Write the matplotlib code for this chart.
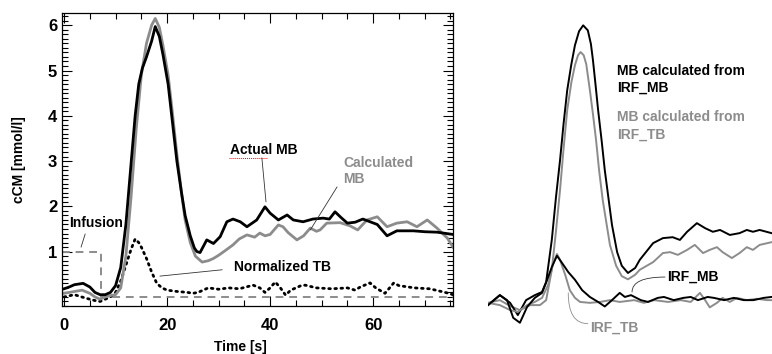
import matplotlib
matplotlib.use("Agg")
import matplotlib.pyplot as plt
from matplotlib.ticker import MultipleLocator

plt.rcParams['font.family'] = ['Liberation Sans', 'DejaVu Sans']
plt.rcParams['font.weight'] = 'bold'

# =============================================================================
# 1. DATA
# =============================================================================
# left panel, time in s, concentration in mmol/l
t_actual = [0, 1, 2, 3.7, 5, 6, 7, 8, 9, 10, 11, 12, 12.6, 13.2, 13.8, 14.5, 15.2, 16,
            17, 17.7, 18.5, 19.2, 20.2, 21, 21.9, 22.8, 23.5, 24.5, 25.3, 25.8, 26.4,
            27.7, 29, 30.3, 31.6, 32.8, 34.2, 35.5, 37.4, 39, 40, 41.6, 43.3, 44.5,
            46.4, 48.3, 50.3, 51.5, 52.6, 53.8, 55, 56.5, 58, 60.8, 62.7, 64.6, 67.8,
            70, 72.4, 75.5]
v_actual = [0.18, 0.22, 0.27, 0.3, 0.22, 0.1, 0.05, 0.05, 0.1, 0.25, 0.65, 1.6, 2.4,
            3.2, 4.0, 4.7, 5.05, 5.3, 5.65, 5.97, 5.75, 5.35, 4.7, 3.9, 3.0, 2.3, 1.8,
            1.35, 1.08, 1.0, 0.98, 1.26, 1.18, 1.33, 1.66, 1.72, 1.66, 1.55, 1.7, 1.99,
            1.85, 1.7, 1.81, 1.7, 1.66, 1.72, 1.74, 1.72, 1.88, 1.75, 1.63, 1.65, 1.72,
            1.6, 1.35, 1.46, 1.46, 1.44, 1.43, 1.38]

t_calc = [0, 1, 2, 3.5, 5, 6, 7, 8, 9, 10, 11, 12, 13, 14, 15, 16, 17, 17.7, 18.5, 19.2,
          20.2, 21, 21.9, 22.8, 23.5, 24.5, 25.5, 26.8, 28, 29, 30, 31, 32.8, 34, 35.5,
          37, 38, 39, 40, 41.6, 42.5, 43.5, 45.2, 46.5, 47.8, 49, 49.7, 51, 53.6, 55.5,
          57, 58.8, 60.8, 62.7, 64.6, 66.6, 68.5, 70.5, 72.4, 74.4, 75.5]
v_calc = [0.08, 0.1, 0.12, 0.15, 0.08, 0.0, -0.05, 0.0, 0.03, 0.05, 0.2, 0.9, 2.2, 3.7,
          4.9, 5.6, 6.0, 6.15, 5.95, 5.55, 4.9, 4.1, 3.15, 2.3, 1.7, 1.2, 0.9, 0.77, 0.8,
          0.85, 0.92, 1.0, 1.15, 1.28, 1.37, 1.32, 1.41, 1.35, 1.38, 1.59, 1.55, 1.42,
          1.26, 1.35, 1.52, 1.45, 1.48, 1.63, 1.64, 1.57, 1.48, 1.7, 1.77, 1.55, 1.63,
          1.66, 1.55, 1.7, 1.52, 1.3, 1.1]

t_tb = [0, 2, 4, 6, 7, 8, 9, 10, 11, 12, 13, 13.8, 14.5, 15, 16, 17, 18, 19, 20, 22, 24,
        25, 26, 28, 30, 32, 34, 36.7, 38, 39, 40, 41, 42, 43, 44, 46, 46.8, 49, 52, 55,
        56.5, 57.5, 59.4, 60.5, 62.3, 64, 65, 68, 71, 74, 75.5]
v_tb = [0.0, 0.05, -0.02, -0.08, -0.1, -0.05, 0.0, 0.1, 0.35, 0.7, 1.05, 1.28, 1.2, 1.1,
        0.85, 0.55, 0.3, 0.2, 0.15, 0.12, 0.1, 0.08, 0.1, 0.2, 0.17, 0.2, 0.18, 0.26,
        0.2, 0.1, 0.2, 0.33, 0.2, 0.04, 0.15, 0.25, 0.26, 0.2, 0.18, 0.2, 0.15, 0.22,
        0.31, 0.2, 0.08, 0.31, 0.25, 0.2, 0.18, 0.1, 0.05]

t_infusion = [-0.4, 7.1, 7.1, 75.5]
v_infusion = [1, 1, 0, 0]

# right panel
t_mb_irfmb = [-0.6, 1.7, 3.7, 5.2, 6.8, 8.5, 9.9, 10.7, 11.8, 12.6, 13.4, 14.1, 14.8,
              15.6, 16.3, 17.1, 17.9, 18.8, 19.4, 19.8, 20.3, 20.8, 21.5, 22.1, 23.5,
              24.5, 25.4, 26.6, 28.0, 28.9, 31.5, 33.4, 35.3, 36.7, 38.1, 40.0, 41.6,
              43.1, 44.5, 46.4, 48.3, 49.7, 50.9, 52.2, 54.5]
v_mb_irfmb = [-0.07, 0.15, -0.02, -0.29, 0.04, 0.15, 0.22, 0.44, 1.37, 2.3, 3.13, 3.95,
              4.68, 5.25, 5.67, 5.98, 6.11, 6.0, 5.7, 5.34, 4.8, 4.24, 3.55, 2.91, 1.70,
              1.1, 0.8, 0.64, 0.75, 0.93, 1.30, 1.41, 1.43, 1.37, 1.55, 1.74, 1.63, 1.55,
              1.59, 1.48, 1.52, 1.59, 1.55, 1.59, 1.52]

t_mb_irftb = [-0.6, 1.7, 3.7, 5.6, 7.6, 9.5, 10.7, 11.8, 12.6, 13.4, 14.1, 14.8, 15.6,
              16.3, 16.9, 17.4, 18.0, 18.5, 19.2, 19.8, 20.4, 21.0, 21.7, 23.1, 24.3,
              25.4, 26.6, 28.0, 28.9, 31.5, 33.4, 34.8, 36.3, 38.1, 39.6, 41.2, 42.5,
              43.9, 45.0, 46.8, 48.3, 49.7, 50.9, 52.2, 54.5]
v_mb_irftb = [-0.02, 0.04, -0.09, -0.18, -0.07, -0.07, 0.04, 0.71, 1.55, 2.47, 3.4, 4.24,
              4.85, 5.23, 5.45, 5.52, 5.45, 5.25, 4.68, 4.15, 3.58, 2.9, 2.25, 1.26, 0.8,
              0.57, 0.5, 0.6, 0.71, 0.88, 1.08, 1.10, 1.04, 1.15, 1.26, 1.08, 1.15, 1.21,
              1.10, 0.97, 1.08, 1.21, 1.15, 1.26, 1.32]

t_irf_mb = [-0.6, 1.7, 3.1, 4.3, 5.6, 7.0, 8.5, 9.9, 10.9, 11.8, 12.8, 13.8, 15.0, 16.3,
            17.7, 19.2, 20.8, 22.1, 23.5, 25.0, 26.0, 27.2, 29.1, 30.5, 32.4, 33.6, 35.5,
            37.4, 38.8, 40.2, 42.1, 43.3, 45.3, 47.2, 49.1, 51.0, 53.0, 54.5]
v_irf_mb = [-0.07, 0.15, 0.04, -0.35, -0.46, -0.11, 0.09, 0.2, 0.49, 0.77, 1.02, 0.86,
            0.66, 0.49, 0.26, 0.11, 0.0, -0.1, 0.04, 0.2, 0.11, 0.15, 0.04, 0.0, 0.09,
            0.11, 0.04, 0.09, 0.11, 0.04, 0.11, 0.09, 0.04, 0.09, 0.04, 0.04, 0.09, 0.11]

t_irf_tb = [-0.6, 1.7, 3.7, 5.2, 7.0, 8.5, 9.9, 11.1, 12.0, 12.8, 13.4, 14.4, 15.3, 16.3,
            17.3, 19.2, 21.2, 23.1, 25.0, 27.8, 29.7, 31.7, 34.4, 36.9, 38.8, 40.6, 41.6,
            42.5, 43.9, 45.0, 46.4, 47.8, 49.7, 51.7, 53.6, 54.5]
v_irf_tb = [-0.02, -0.07, -0.18, -0.22, -0.07, 0.0, 0.09, 0.38, 0.82, 1.06, 0.93, 0.6,
            0.26, 0.09, 0.0, -0.02, 0.0, 0.04, 0.0, 0.04, -0.02, 0.04, 0.0, 0.04, 0.0,
            0.2, 0.04, -0.12, -0.02, 0.09, 0.0, 0.09, 0.04, 0.07, 0.04, 0.04]

x_ticks = [0, 20, 40, 60]
y_ticks = [1, 2, 3, 4, 5, 6]

# =============================================================================
# 2. PLOT
# =============================================================================
black = '#000000'
gray = '#8c8c8c'

fig = plt.figure(figsize=(7.72, 3.54), dpi=100)

# --- left panel
ax = fig.add_axes([62 / 772, 48 / 354, 391 / 772, 293 / 354])
ax.plot(t_infusion, v_infusion, color=gray, lw=1.4, ls=(0, (4, 3)))
ax.plot(t_tb, v_tb, color=black, lw=2.0, ls=(0, (0.6, 1.6)), dash_capstyle='round')
ax.plot(t_calc, v_calc, color=gray, lw=2.0)
ax.plot(t_actual, v_actual, color=black, lw=2.0)

ax.set_xlim(-0.4, 75.5)
ax.set_ylim(-0.2, 6.27)
ax.set_xticks(x_ticks)
ax.set_yticks(y_ticks)
ax.xaxis.set_minor_locator(MultipleLocator(5))
ax.yaxis.set_minor_locator(MultipleLocator(0.1))
ax.tick_params(which='both', direction='in', top=True, right=True, labelsize=12, width=0.8)
ax.tick_params(which='major', length=7)
ax.tick_params(which='minor', length=4)
ax.tick_params(axis='x', pad=9)
for lab in ax.get_xticklabels() + ax.get_yticklabels():
    lab.set_fontweight('bold')
for sp in ax.spines.values():
    sp.set_linewidth(0.9)

ax.set_xlabel('Time [s]', fontsize=10, fontweight='bold')
ax.xaxis.set_label_coords(0.455, -0.117)
ax.set_ylabel('cCM [mmol/l]', fontsize=10, fontweight='bold')
ax.yaxis.set_label_coords(-0.092, 0.5)

lead = dict(arrowstyle='-', lw=0.6, color='#333333', shrinkA=0, shrinkB=0)
ax.text(6.2, 1.63, 'Infusion', ha='center', va='center', fontsize=10)
ax.annotate('', xy=(3.3, 1.1), xytext=(4.1, 1.39), arrowprops=lead)
ax.text(38.8, 3.25, 'Actual MB', ha='center', va='center', fontsize=10)
ax.plot([32.0, 39.4], [3.07, 3.07], color='red', lw=0.7, ls=(0, (1, 1)))
ax.annotate('', xy=(39.2, 2.1), xytext=(38.4, 3.07), arrowprops=lead)
ax.text(54.2, 2.78, 'Calculated\nMB', ha='left', va='center', fontsize=10,
        color=gray, linespacing=1.15)
ax.annotate('', xy=(47.8, 1.48), xytext=(53.0, 2.43), arrowprops=lead)
ax.text(42.5, 0.66, 'Normalized TB', ha='center', va='center', fontsize=10)
ax.annotate('', xy=(18.6, 0.46), xytext=(30.7, 0.6), arrowprops=lead)

# --- right panel (no axes)
ax2 = fig.add_axes([488 / 772, 0, 284 / 772, 1])
ax2.plot(t_mb_irftb, v_mb_irftb, color=gray, lw=1.4)
ax2.plot(t_mb_irfmb, v_mb_irfmb, color=black, lw=1.4)
ax2.plot(t_irf_tb, v_irf_tb, color=gray, lw=1.4)
ax2.plot(t_irf_mb, v_irf_mb, color=black, lw=1.4)
ax2.set_xlim(-0.6, 54.6)
ax2.set_ylim(-1.15, 6.67)
ax2.axis('off')

ax2.text(24.5, 4.92, 'MB calculated from\nIRF_MB', ha='left', va='center',
         fontsize=10, color=black, linespacing=1.3)
ax2.text(24.5, 3.89, 'MB calculated from\nIRF_TB', ha='left', va='center',
         fontsize=10, color=gray, linespacing=1.3)
ax2.text(34.2, 0.55, 'IRF_MB', ha='left', va='center', fontsize=10, color=black)
ax2.annotate('', xy=(27.4, 0.22), xytext=(33.8, 0.55),
             arrowprops=dict(arrowstyle='-', lw=0.6, color='#333333', shrinkA=0, shrinkB=0,
                             connectionstyle='angle3,angleA=0,angleB=90'))
ax2.text(19.2, -0.57, 'IRF_TB', ha='left', va='center', fontsize=10, color=gray)
ax2.annotate('', xy=(15.0, 0.2), xytext=(18.8, -0.48),
             arrowprops=dict(arrowstyle='-', lw=0.6, color=gray, shrinkA=0, shrinkB=0,
                             connectionstyle='angle3,angleA=0,angleB=90'))

fig.savefig('out.png', dpi=100)
